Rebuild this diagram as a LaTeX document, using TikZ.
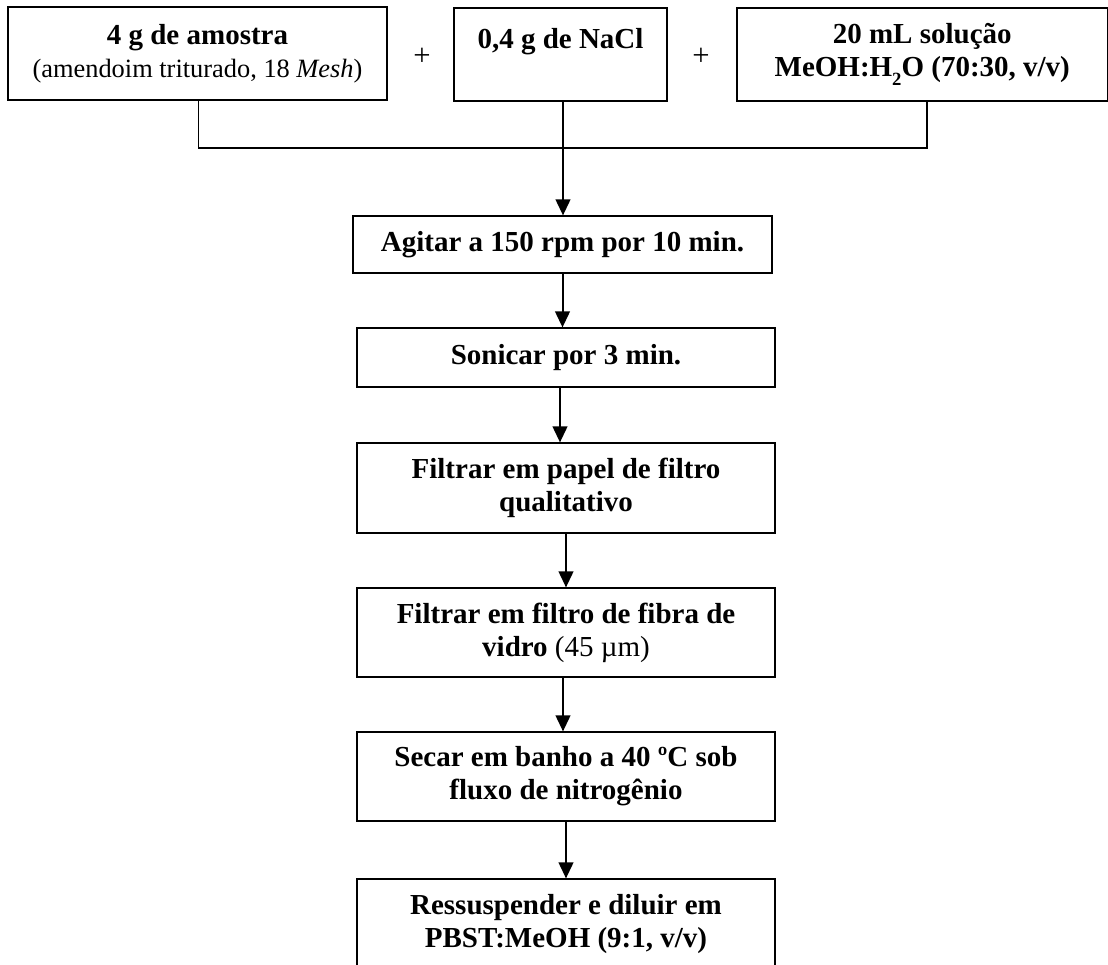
\documentclass[tikz,border=0pt]{standalone}
\usepackage{fontspec}
\setmainfont{Liberation Serif}
\usetikzlibrary{arrows.meta}
\newcommand{\lowsub}[1]{\raisebox{-0.32em}{\fontsize{14}{14}\selectfont #1}}
\begin{document}
\begin{tikzpicture}[x=0.75pt,y=-0.75pt,
  txt/.style={font=\fontsize{21.75}{24.75}\selectfont},
  box/.style={draw, line width=0.9pt, inner sep=0pt, align=center, txt},
  size/.style 2 args={minimum width=#1*0.75pt, minimum height=#2*0.75pt},
  flow/.style={line width=1.5pt, -{Triangle[length=12pt,width=11pt]}},
  joinline/.style={line width=0.8pt},
  plus/.style={font=\fontsize{23}{24.75}\selectfont, inner sep=0pt}]
\useasboundingbox (0,0) rectangle (1108,965);

% ingredients
\node[box, size={379}{93}] (amostra) at (197.5,53.5)
  {\textbf{4 g de amostra}\\{\fontsize{19.8}{24.75}\selectfont(amendoim triturado, 18 \textit{Mesh})}};
\node[plus] (p1) at (422,57) {+};
\node[box, size={213}{93}] (nacl) at (560.5,54.5)
  {\textbf{0,4 g de NaCl}\\\mbox{}};
\node[plus] (p2) at (701,57) {+};
\node[box, size={370.5}{93}] (solucao) at (922.25,54.5)
  {\textbf{20 mL solução}\\\textbf{MeOH:H\lowsub{2}O (70:30, v/v)}};

% procedure steps
\node[box, size={419}{57}] (agitar) at (562.5,244.5)
  {\textbf{Agitar a 150 rpm por 10 min.}};
\node[box, size={418}{59}] (sonicar) at (566,357.5)
  {\textbf{Sonicar por 3 min.}};
\node[box, size={418}{90}] (filtro1) at (566,488)
  {\textbf{Filtrar em papel de filtro}\\\textbf{qualitativo}};
\node[box, size={418}{89}] (filtro2) at (566,632.5)
  {\textbf{Filtrar em filtro de fibra de}\\\textbf{vidro} (45 µm)};
\node[box, size={418}{89}] (secar) at (566,776.5)
  {\textbf{Secar em banho a 40 ºC sob}\\\textbf{fluxo de nitrogênio}};
\node[box, size={418}{90}] (ressusp) at (566,924)
  {\textbf{Ressuspender e diluir em}\\\textbf{PBST:MeOH (9:1, v/v)}};

% joining the ingredients
\coordinate (mix) at (563,148);
\coordinate (j3) at ([xshift=3.56pt]solucao.south);
\draw[joinline] ([xshift=0.4pt]amostra.south) |- (mix) -| (j3);
\coordinate (n2) at ([xshift=1.875pt]nacl.south);
\draw[flow] (n2) -- (n2 |- agitar.north);

% step arrows
\coordinate (a1) at (agitar.south);
\draw[flow] (a1) -- (a1 |- sonicar.north);
\coordinate (a2) at ([xshift=-4.5pt]sonicar.south);
\draw[flow] (a2) -- (a2 |- filtro1.north);
\coordinate (a3) at (filtro1.south);
\draw[flow] (a3) -- (a3 |- filtro2.north);
\coordinate (a4) at ([xshift=-2.25pt]filtro2.south);
\draw[flow] (a4) -- (a4 |- secar.north);
\coordinate (a5) at (secar.south);
\draw[flow] (a5) -- (a5 |- ressusp.north);
\end{tikzpicture}
\end{document}
